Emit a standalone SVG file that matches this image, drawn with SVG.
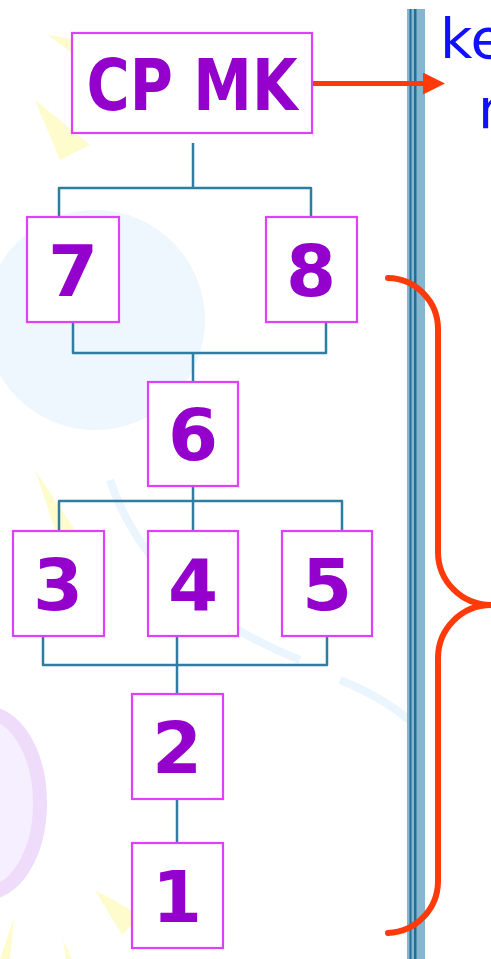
<svg xmlns="http://www.w3.org/2000/svg" width="491" height="959" viewBox="0 0 491 959">
<style>
.box{fill:#ffffff;stroke:#e040fb;stroke-width:2.2}
.num{font-family:"DejaVu Sans",Verdana,sans-serif;font-weight:bold;font-size:72px;fill:#9400cc;text-anchor:middle}
.conn{fill:none;stroke:#2f7da0;stroke-width:2.5;stroke-linejoin:round}
.red{fill:none;stroke:#ff3a0a;stroke-linecap:round}
.side{font-family:"DejaVu Sans",Verdana,sans-serif;font-size:56px;fill:#1010ff}
</style>
<defs>
<marker id="ah" markerWidth="22" markerHeight="22" viewBox="0 0 22 22" refX="0" refY="11" orient="auto" markerUnits="userSpaceOnUse">
<path d="M0,0 L22,11 L0,22 Z" fill="#ff3a0a"/>
</marker>
</defs>
<g id="background">
<circle cx="95" cy="320" r="110" fill="#eef7fd"/>
<path d="M110,480 Q150,600 300,660" fill="none" stroke="#eaf5fd" stroke-width="8"/>
<path d="M340,680 Q390,700 420,730" fill="none" stroke="#eaf5fd" stroke-width="8"/>
<ellipse cx="-14" cy="803" rx="54" ry="90" fill="#f6efff" stroke="#efdcfb" stroke-width="14"/>
<path d="M48,35 L110,45 L95,70 Z" fill="#fefccc"/>
<path d="M35,100 L90,145 L60,160 Z" fill="#fefccc"/>
<path d="M35,470 L75,530 L60,545 Z" fill="#fefccc"/>
<path d="M95,890 L140,915 L122,935 Z" fill="#fefccc"/>
<path d="M0,959 L14,918 L10,959 Z" fill="#fefccc"/>
<path d="M63,940 L72,959 L66,959 Z" fill="#fefccc"/>
</g>
<g id="divider">
<rect x="407" y="9" width="18" height="950" fill="#86b6cf"/>
<rect x="409.5" y="9" width="2" height="950" fill="#1f6f98"/>
<rect x="414" y="9" width="2.5" height="950" fill="#1f6f98"/>
</g>
<g id="connectors">
<path class="conn" d="M193,143 V188 M59,217 V188 H311 V217"/>
<path class="conn" d="M73,322 V353 H326 V322 M193,353 V382"/>
<path class="conn" d="M193,486 V531 M59,531 V501 H342 V531"/>
<path class="conn" d="M43,636 V665 H327 V636 M177,636 V694"/>
<path class="conn" d="M177,799 V843"/>
<path class="red" stroke-width="5" stroke-linecap="butt" d="M312,83.5 H423" marker-end="url(#ah)"/>
<path class="red" stroke-width="6" d="M388,278 A51,51 0 0 1 438,329 L438,552 A53,53 0 0 0 491,605 A53,53 0 0 0 438,658 L438,882 A52,52 0 0 1 388,933"/>
</g>
<g id="node-cpmk">
<rect class="box" x="72" y="33" width="240" height="100"/>
<text class="num" x="192" y="110" textLength="211" lengthAdjust="spacingAndGlyphs">CP MK</text>
</g>
<g id="node-7"><rect class="box" x="27" y="217" width="92" height="105"/><text class="num" x="73" y="296">7</text></g>
<g id="node-8"><rect class="box" x="266" y="217" width="91" height="105"/><text class="num" x="311" y="296">8</text></g>
<g id="node-6"><rect class="box" x="148" y="382" width="90" height="104"/><text class="num" x="193" y="460">6</text></g>
<g id="node-3"><rect class="box" x="13" y="531" width="91" height="105"/><text class="num" x="58" y="610">3</text></g>
<g id="node-4"><rect class="box" x="148" y="531" width="90" height="105"/><text class="num" x="193" y="610">4</text></g>
<g id="node-5"><rect class="box" x="282" y="531" width="90" height="105"/><text class="num" x="327" y="610">5</text></g>
<g id="node-2"><rect class="box" x="132" y="694" width="91" height="105"/><text class="num" x="177" y="773">2</text></g>
<g id="node-1"><rect class="box" x="132" y="843" width="91" height="105"/><text class="num" x="177" y="922">1</text></g>
<g id="side-text">
<text class="side" x="440" y="58">ke</text>
<text class="side" x="478" y="128">n</text>
</g>
</svg>
